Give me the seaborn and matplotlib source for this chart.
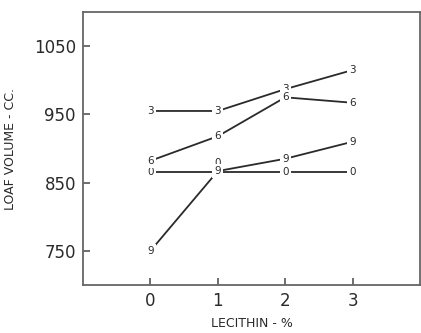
import matplotlib
matplotlib.use('Agg')
import matplotlib.pyplot as plt
import seaborn as sns
import pandas as pd

sns.set_style("ticks")
plt.rcParams['font.family'] = ['DejaVu Sans']
plt.rcParams['xtick.direction'] = 'in'
plt.rcParams['ytick.direction'] = 'in'

# lecithin levels and loaf volumes per curve (curve labels as drawn on the chart)
lecithin = [0, 1, 2, 3]
series_names = ['0', '3', '6', '9']
vol_0 = [865, 865, 865, 865]
vol_3 = [955, 955, 987, 1015]
vol_6 = [882, 918, 975, 967]
vol_9 = [750, 867, 885, 910]

df = pd.DataFrame({
    'lecithin': lecithin * 4,
    'volume': vol_0 + vol_3 + vol_6 + vol_9,
    'series': [s for s in series_names for _ in lecithin],
})

ink = '#2a2a2a'
fig = plt.figure(figsize=(4.21, 3.33), dpi=100)
ax = fig.add_axes([0.197, 0.144, 0.801, 0.820])

sns.lineplot(data=df, x='lecithin', y='volume', hue='series',
             palette={s: ink for s in series_names}, linewidth=1.3,
             legend=False, ax=ax)

# digits as point markers, white box makes the gap in the line
for _, row in df.iterrows():
    dy = 7 if (row['series'] == '0' and row['lecithin'] == 1) else 0
    ax.annotate(row['series'], (row['lecithin'], row['volume']),
                xytext=(0, dy), textcoords='offset points',
                ha='center', va='center', fontsize=7.5, color=ink,
                bbox=dict(boxstyle='square,pad=0.2', fc='white', ec='none'),
                zorder=5)

ax.set_xlim(-1, 4)
ax.set_ylim(700, 1100)
ax.set_xticks([0, 1, 2, 3])
ax.set_yticks([750, 850, 950, 1050])
ax.tick_params(axis='both', labelsize=12, length=5, width=1.2, colors='#555555',
               labelcolor=ink, pad=5)
for sp in ax.spines.values():
    sp.set_color('#666666')
    sp.set_linewidth(1.3)

ax.set_xlabel('LECITHIN - %', fontsize=9, color=ink, labelpad=5)
ax.set_ylabel('LOAF VOLUME - CC.', fontsize=9, color=ink, labelpad=12)

fig.savefig('out.png', dpi=100)
plt.close(fig)
